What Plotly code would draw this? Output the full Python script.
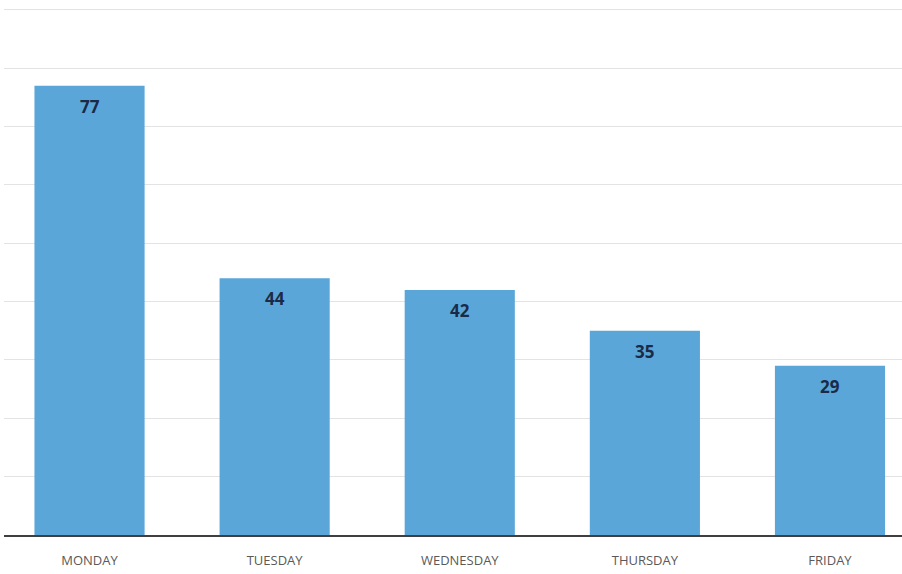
import plotly.graph_objects as go

days = ["MONDAY", "TUESDAY", "WEDNESDAY", "THURSDAY", "FRIDAY"]
values = [77, 44, 42, 35, 29]

fig = go.Figure()
fig.add_trace(go.Bar(
    x=days, y=values,
    marker=dict(color="#5aa6d8", line=dict(width=0)),
    hoverinfo="skip",
))
for d, v in zip(days, values):
    fig.add_annotation(
        x=d, y=v, text="<b>%d</b>" % v, showarrow=False,
        yanchor="top", yshift=-7,
        font=dict(family="Open Sans", size=17, color="#1b2a47"),
    )

fig.update_layout(
    width=902, height=574,
    margin=dict(l=4, r=0, t=1, b=39),
    paper_bgcolor="white", plot_bgcolor="white",
    bargap=0.405,
    showlegend=False,
    font=dict(family="Open Sans", color="#595959"),
)
fig.update_xaxes(
    range=[-0.462, 4.389],
    showgrid=False, zeroline=False,
    showline=True, linecolor="#3f3f3f", linewidth=2,
    ticks="outside", ticklen=12, tickcolor="rgba(0,0,0,0)",
    tickfont=dict(family="Open Sans", size=13, color="#595959"),
)
fig.update_yaxes(
    range=[0, 91.54], dtick=10,
    showgrid=True, gridcolor="#e3e3e3", gridwidth=1,
    zeroline=False, showticklabels=False, ticks="",
)

fig.write_html("out.html", config={"displayModeBar": False},
               post_script="document.body.style.margin='0';document.body.style.overflow='hidden';")
